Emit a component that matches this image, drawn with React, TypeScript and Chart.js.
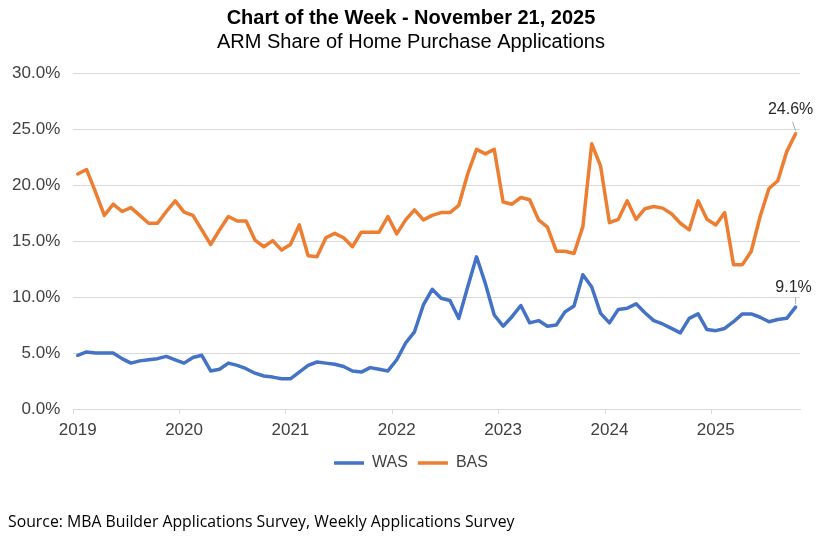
import { useEffect, useRef } from 'react';
import { Chart, registerables } from 'chart.js';

Chart.register(...registerables);

// Monthly categories: Jan 2019 .. Oct 2025
const yearLabels = ['2019', '2020', '2021', '2022', '2023', '2024', '2025'];
const monthNames = ['Jan', 'Feb', 'Mar', 'Apr', 'May', 'Jun', 'Jul', 'Aug', 'Sep', 'Oct', 'Nov', 'Dec'];
const categories: string[] = [];
yearLabels.forEach((y) => monthNames.forEach((m) => categories.push(`${m} ${y}`)));
categories.splice(82);

// ARM share of purchase applications (%)
const wasValues = [
  4.8, 5.1, 5.0, 5.0, 5.0, 4.5, 4.1, 4.3, 4.4, 4.5, 4.7, 4.4,
  4.1, 4.6, 4.8, 3.4, 3.55, 4.1, 3.9, 3.6, 3.2, 2.95, 2.85, 2.7,
  2.7, 3.3, 3.9, 4.2, 4.1, 4.0, 3.8, 3.4, 3.3, 3.7, 3.55, 3.4,
  4.4, 5.9, 6.9, 9.3, 10.7, 9.9, 9.7, 8.1, 10.9, 13.6, 11.2, 8.4,
  7.4, 8.25, 9.25, 7.7, 7.9, 7.4, 7.5, 8.7, 9.2, 12.0, 10.9, 8.55,
  7.7, 8.9, 9.0, 9.4, 8.6, 7.9, 7.6, 7.2, 6.8, 8.1, 8.5, 7.1,
  7.0, 7.2, 7.8, 8.5, 8.5, 8.2, 7.8, 8.0, 8.1, 9.1,
];

const basValues = [
  21.0, 21.4, 19.4, 17.3, 18.3, 17.65, 18.0, 17.3, 16.6, 16.6, 17.65, 18.6,
  17.6, 17.3, 16.0, 14.7, 16.0, 17.2, 16.8, 16.8, 15.1, 14.5, 15.05, 14.2,
  14.7, 16.45, 13.7, 13.6, 15.3, 15.7, 15.3, 14.5, 15.8, 15.8, 15.8, 17.2,
  15.65, 16.9, 17.8, 16.9, 17.3, 17.55, 17.55, 18.2, 21.0, 23.2, 22.8, 23.2,
  18.5, 18.3, 18.9, 18.7, 16.9, 16.25, 14.1, 14.1, 13.9, 16.3, 23.7, 21.7,
  16.65, 16.95, 18.6, 16.95, 17.9, 18.1, 17.95, 17.45, 16.6, 16.0, 18.6, 16.95,
  16.45, 17.55, 12.9, 12.9, 14.1, 17.2, 19.7, 20.4, 23.0, 24.6,
];

const seriesNames = ['WAS', 'BAS'];
const seriesColors = ['#4472C4', '#ED7D31'];

const titleText = 'Chart of the Week - November 21, 2025';
const subtitleText = 'ARM Share of Home Purchase Applications';
const sourceText = 'Source: MBA Builder Applications Survey, Weekly Applications Survey';

const FONT = '"Liberation Sans", Arial, sans-serif';

// text offsets for end-of-series data labels (pixels, relative to last point)
const endLabelOffsets = [
  { tx: -2, ty: -20, l1y: -3, l2x: 0, l2y: -10 },
  { tx: -5, ty: -24, l1y: -3, l2x: -3, l2y: -12 },
];

const endLabelPlugin = {
  id: 'endLabels',
  afterDatasetsDraw(chart: any) {
    const ctx = chart.ctx;
    chart.data.datasets.forEach((ds: any, di: number) => {
      const meta = chart.getDatasetMeta(di);
      const pt = meta.data[meta.data.length - 1];
      const v = ds.data[ds.data.length - 1].y as number;
      const o = endLabelOffsets[di];
      ctx.save();
      ctx.strokeStyle = '#9fb0c4';
      ctx.lineWidth = 1;
      ctx.beginPath();
      ctx.moveTo(pt.x, pt.y + o.l1y);
      ctx.lineTo(pt.x + o.l2x, pt.y + o.l2y);
      ctx.stroke();
      ctx.font = `16px ${FONT}`;
      ctx.fillStyle = '#262626';
      ctx.textAlign = 'center';
      ctx.textBaseline = 'middle';
      ctx.fillText(`${v.toFixed(1)}%`, pt.x + o.tx, pt.y + o.ty);
      ctx.restore();
    });
  },
};

export default function App() {
  const canvasRef = useRef<HTMLCanvasElement | null>(null);

  useEffect(() => {
    if (!canvasRef.current) return;
    const seriesValues = [wasValues, basValues];
    const chart = new Chart(canvasRef.current, {
      type: 'line',
      data: {
        labels: categories,
        datasets: seriesNames.map((name, si) => ({
          label: name,
          data: seriesValues[si].map((v, i) => ({ x: i + 0.5, y: v })),
          borderColor: seriesColors[si],
          backgroundColor: seriesColors[si],
          borderWidth: 3.5,
          pointRadius: 0,
          pointHoverRadius: 0,
          pointStyle: 'line',
          tension: 0,
          borderJoinStyle: 'round',
          borderCapStyle: 'round',
          fill: false,
          yAxisID: 'y',
        })),
      },
      options: {
        animation: false,
        responsive: true,
        maintainAspectRatio: false,
        events: [],
        layout: { padding: { left: 0, right: 8, top: 0, bottom: 58 } },
        font: { family: FONT },
        scales: {
          x: {
            type: 'linear',
            min: 0,
            max: categories.length,
            afterBuildTicks: (axis: any) => {
              axis.ticks = yearLabels.map((_, k) => ({ value: k * 12 }));
            },
            afterFit: (scale: any) => {
              scale.height = 36;
            },
            grid: {
              display: true,
              drawOnChartArea: false,
              drawTicks: true,
              tickLength: 5,
              color: '#d9d9d9',
            },
            border: { display: true, color: '#d9d9d9', width: 1 },
            ticks: {
              autoSkip: false,
              maxRotation: 0,
              labelOffset: 4.4,
              padding: 6,
              color: '#404040',
              font: { family: FONT, size: 17 },
              callback: (value: any) => yearLabels[Math.round(Number(value) / 12)] ?? '',
            },
          },
          y: {
            min: 0,
            max: 30,
            afterFit: (scale: any) => {
              scale.width = 73.3;
            },
            grid: { color: '#d9d9d9', drawTicks: false, lineWidth: 1 },
            border: { display: false },
            ticks: {
              stepSize: 5,
              padding: 13,
              color: '#404040',
              font: { family: FONT, size: 17 },
              callback: (value: any) => `${Number(value).toFixed(1)}%`,
            },
          },
          yRight: {
            position: 'right',
            display: true,
            min: 0,
            max: 30,
            afterFit: (scale: any) => {
              scale.width = 22;
            },
            grid: { display: false, drawTicks: false },
            border: { display: false },
            ticks: { display: false },
          },
        },
        plugins: {
          title: {
            display: true,
            text: titleText,
            color: '#000000',
            font: { family: FONT, size: 20, weight: 'bold', lineHeight: 1.2 },
            padding: { top: 6, bottom: 0 },
          },
          subtitle: {
            display: true,
            text: subtitleText,
            color: '#000000',
            font: { family: FONT, size: 20, weight: 'normal', lineHeight: 1.2 },
            padding: { top: 0, bottom: 19.3 },
          },
          legend: {
            display: true,
            position: 'bottom',
            labels: {
              usePointStyle: true,
              pointStyle: 'line',
              pointStyleWidth: 30,
              boxWidth: 30,
              padding: 10,
              color: '#404040',
              font: { family: FONT, size: 16 },
            },
          },
          tooltip: { enabled: false },
        },
      },
      plugins: [endLabelPlugin],
    } as any);
    return () => chart.destroy();
  }, []);

  return (
    <div
      style={{
        position: 'fixed',
        left: 0,
        top: 0,
        width: 830,
        height: 539,
        background: '#ffffff',
      }}
    >
      <canvas ref={canvasRef} />
      <div
        style={{
          position: 'absolute',
          left: 8,
          top: 511,
          fontFamily: '"Open Sans", sans-serif',
          fontSize: 15.8,
          lineHeight: '20px',
          color: '#000000',
          whiteSpace: 'nowrap',
        }}
      >
        {sourceText}
      </div>
    </div>
  );
}
